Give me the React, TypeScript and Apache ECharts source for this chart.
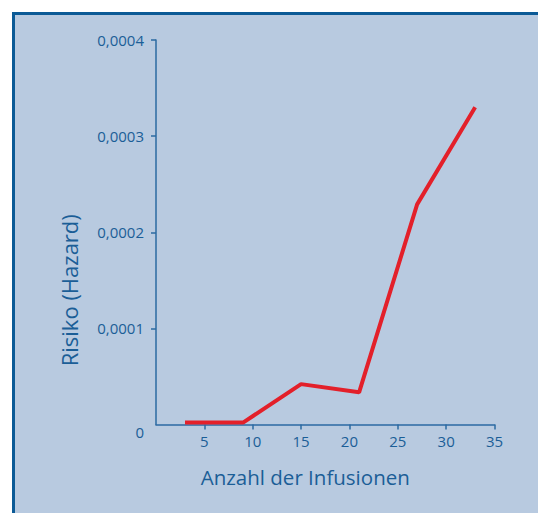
import React, { useEffect, useRef } from "react";
import * as echarts from "echarts";

const infusions = [3, 9, 15, 21, 27, 33];
const hazard = [0.000002, 0.000002, 0.000042, 0.0000335, 0.000229, 0.00033];
const xTicks = { min: 0, max: 35, interval: 5 };
const yTicks = { min: 0, max: 0.0004, interval: 0.0001 };
const xTickValues = [5, 10, 15, 20, 25, 30, 35];
const yTickValues = [0.0001, 0.0002, 0.0003, 0.0004];
const xTitle = "Anzahl der Infusionen";
const yTitle = "Risiko (Hazard)";

const TEXT = "#1b5e97";
const AXIS = "#2b6aa2";
const FONT = "'Open Sans', 'Noto Sans', sans-serif";

export default function App() {
  const ref = useRef<HTMLDivElement>(null);
  useEffect(() => {
    if (!ref.current) return;
    const chart = echarts.init(ref.current, null, { renderer: "svg" });
    chart.setOption({
      animation: false,
      backgroundColor: "#ffffff",
      graphic: [
        {
          type: "rect",
          z: -10,
          shape: { x: 13.5, y: 13.5, width: 560, height: 560 },
          style: { fill: "#b8cae0", stroke: "#0b5a96", lineWidth: 3 },
          silent: true,
        },
      ],
      grid: { left: 156, right: 43.5, top: 40, bottom: 88.5 },
      xAxis: {
        type: "value",
        min: xTicks.min,
        max: xTicks.max,
        interval: xTicks.interval,
        name: xTitle,
        nameLocation: "middle",
        nameGap: 42,
        nameTextStyle: {
          color: TEXT,
          fontSize: 20.5,
          fontFamily: FONT,
          padding: [0, 40, 0, 0],
        },
        axisLine: { show: true, lineStyle: { color: AXIS, width: 1.5 } },
        axisTick: {
          show: true,
          length: 5,
          customValues: xTickValues,
          lineStyle: { color: AXIS, width: 1.5 },
        },
        splitLine: { show: false },
        axisLabel: {
          color: TEXT,
          fontSize: 15,
          fontFamily: FONT,
          margin: 9,
          formatter: (v: number) => (v === 0 ? "" : String(v)),
        },
      },
      yAxis: {
        type: "value",
        min: yTicks.min,
        max: yTicks.max,
        interval: yTicks.interval,
        name: yTitle,
        nameLocation: "middle",
        nameGap: 76,
        nameTextStyle: {
          color: TEXT,
          fontSize: 22,
          fontFamily: FONT,
          padding: [0, 116, 0, 0],
        },
        axisLine: { show: true, lineStyle: { color: AXIS, width: 1.5 } },
        axisTick: {
          show: true,
          length: 5,
          customValues: yTickValues,
          lineStyle: { color: AXIS, width: 1.5 },
        },
        splitLine: { show: false },
        axisLabel: {
          color: TEXT,
          fontSize: 15,
          fontFamily: FONT,
          margin: 12,
          formatter: (v: number) =>
            v === 0 ? "{z|0}" : v.toFixed(4).replace(".", ","),
          rich: {
            z: {
              color: TEXT,
              fontSize: 15,
              fontFamily: FONT,
              padding: [14, 0, 0, 0],
            },
          },
        },
      },
      series: [
        {
          type: "line",
          data: infusions.map((x, i) => [x, hazard[i]]),
          showSymbol: false,
          symbol: "none",
          lineStyle: { color: "#e3202a", width: 4 },
        },
      ],
    });
    return () => chart.dispose();
  }, []);
  return (
    <div
      ref={ref}
      style={{ position: "fixed", left: 0, top: 0, width: 538, height: 513 }}
    />
  );
}
